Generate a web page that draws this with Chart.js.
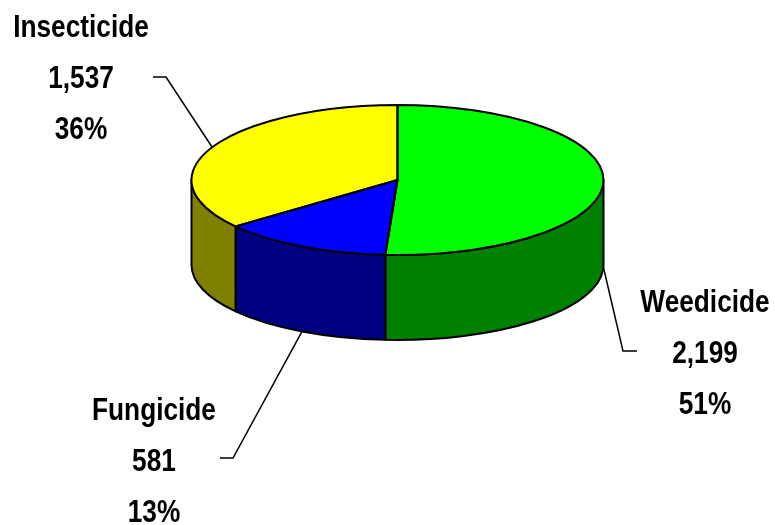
<!DOCTYPE html>
<html><head><meta charset="utf-8">
<script src="https://cdn.jsdelivr.net/npm/chart.js@4"></script>
<style>html,body{margin:0;padding:0;background:#fff}canvas{display:block}</style>
</head><body>
<canvas id="c" width="775" height="525"></canvas>
<script>
// ---- data ----
const categories = ['Weedicide', 'Fungicide', 'Insecticide'];
const values = [2199, 581, 1537];
const topColors = ['#00FF00', '#0000FF', '#FFFF00'];
const sideColors = ['#008000', '#000080', '#808000'];

// ---- layout / style ----
const GEO = { cx: 397.5, cy: 180, rx: 206, ry: 75, depth: 85 };
const LABELS = [
  { x: 705, y: 312, elbow: [623, 351], end: [637, 351] },
  { x: 154, y: 420, elbow: [233, 458], end: [220, 458] },
  { x: 81,  y: 37,  elbow: [166, 77],  end: [153, 77] }
];
const LINE_GAP = 51;
const FONT_PX = 32;

function pickFont(ctx) {
  ctx.font = `bold ${FONT_PX}px monospace`;
  const w0 = ctx.measureText('Insecticide 1,537').width;
  ctx.font = `bold ${FONT_PX}px 'Liberation Sans Narrow', monospace`;
  const w1 = ctx.measureText('Insecticide 1,537').width;
  if (Math.abs(w0 - w1) > 0.5) return { font: `bold ${FONT_PX}px 'Liberation Sans Narrow'`, sx: 1 };
  return { font: `bold ${FONT_PX}px 'Liberation Sans', Arial, sans-serif`, sx: 0.82 };
}

const pie3d = {
  id: 'pie3d',
  beforeDatasetsDraw(chart) {
    const ctx = chart.ctx;
    const meta = chart.getDatasetMeta(0);
    const { cx, cy, rx, ry, depth } = GEO;
    ctx.save();
    ctx.lineWidth = 2; ctx.strokeStyle = '#000'; ctx.lineJoin = 'round';
    meta.data.forEach((arc, i) => {
      const a = Math.max(arc.startAngle, 0), b = Math.min(arc.endAngle, Math.PI);
      if (b <= a) return;
      ctx.beginPath();
      ctx.ellipse(cx, cy, rx, ry, 0, a, b);
      ctx.ellipse(cx, cy + depth, rx, ry, 0, b, a, true);
      ctx.closePath();
      ctx.fillStyle = sideColors[i];
      ctx.fill();
      ctx.stroke();
    });
    ctx.restore();
    const a0 = meta.data[0];
    ctx.save();
    ctx.translate(cx, cy);
    ctx.scale(rx / a0.outerRadius, ry / a0.outerRadius);
    ctx.translate(-a0.x, -a0.y);
  },
  afterDatasetsDraw(chart) {
    const ctx = chart.ctx;
    ctx.restore();
    const meta = chart.getDatasetMeta(0);
    const { cx, cy, rx, ry } = GEO;
    ctx.save();
    ctx.lineWidth = 2; ctx.strokeStyle = '#000'; ctx.lineJoin = 'round';
    meta.data.forEach((arc) => {
      ctx.beginPath();
      ctx.moveTo(cx, cy);
      ctx.ellipse(cx, cy, rx, ry, 0, arc.startAngle, arc.endAngle);
      ctx.closePath();
      ctx.stroke();
    });
    ctx.restore();
  },
  afterDraw(chart) {
    const ctx = chart.ctx;
    const meta = chart.getDatasetMeta(0);
    const { cx, cy, rx, ry, depth } = GEO;
    const total = values.reduce((s, v) => s + v, 0);
    const f = pickFont(ctx);
    ctx.save();
    meta.data.forEach((arc, i) => {
      const L = LABELS[i];
      const mid = (arc.startAngle + arc.endAngle) / 2;
      let ax = cx + rx * Math.cos(mid), ay = cy + ry * Math.sin(mid);
      if (Math.sin(mid) > 0) ay += depth;
      ctx.beginPath();
      ctx.moveTo(ax, ay);
      ctx.lineTo(L.elbow[0], L.elbow[1]);
      ctx.lineTo(L.end[0], L.end[1]);
      ctx.lineWidth = 1.5; ctx.strokeStyle = '#000';
      ctx.stroke();
      const lines = [categories[i], values[i].toLocaleString('en-US'), Math.round(values[i] / total * 100) + '%'];
      ctx.fillStyle = '#000';
      ctx.font = f.font;
      ctx.textAlign = 'center';
      ctx.textBaseline = 'alphabetic';
      lines.forEach((t, k) => {
        ctx.save();
        ctx.translate(L.x, L.y + k * LINE_GAP);
        ctx.scale(f.sx, 1);
        ctx.fillText(t, 0, 0);
        ctx.restore();
      });
    });
    ctx.restore();
  }
};

new Chart(document.getElementById('c'), {
  type: 'pie',
  data: {
    labels: categories,
    datasets: [{
      data: values,
      backgroundColor: topColors,
      borderWidth: 0,
      clip: false
    }]
  },
  options: {
    responsive: false,
    animation: false,
    events: [],
    layout: { padding: 40 },
    plugins: { legend: { display: false }, tooltip: { enabled: false } }
  },
  plugins: [pie3d]
});
</script>
</body></html>
